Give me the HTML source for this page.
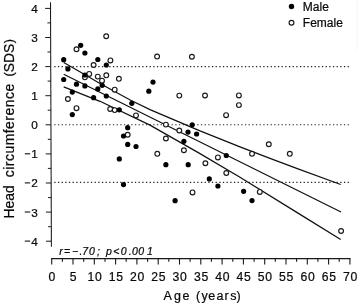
<!DOCTYPE html>
<html><head><meta charset="utf-8"><style>
html,body{margin:0;padding:0;background:#fff;}
body{width:358px;height:306px;position:relative;overflow:hidden;font-family:"Liberation Sans",sans-serif;}
</style></head><body>
<svg width="358" height="306" viewBox="0 0 358 306" style="position:absolute;left:0;top:0;will-change:transform;filter:blur(0.3px)">
<line x1="54.25" y1="66.6" x2="349.2" y2="66.6" stroke="#262626" stroke-width="1.2" stroke-dasharray="1.3 2.3667"/>
<line x1="54.25" y1="124.75" x2="349.2" y2="124.75" stroke="#262626" stroke-width="1.2" stroke-dasharray="1.3 2.3667"/>
<line x1="54.25" y1="182.45" x2="349.2" y2="182.45" stroke="#262626" stroke-width="1.2" stroke-dasharray="1.3 2.3667"/>
<line x1="357" y1="0" x2="357" y2="50" stroke="#f4f4f4" stroke-width="1"/>
<line x1="50.5" y1="2.3" x2="51.4" y2="246.7" stroke="#1a1a1a" stroke-width="1.05"/>
<line x1="45.1" y1="8.4" x2="50.5" y2="8.4" stroke="#1a1a1a" stroke-width="1"/>
<line x1="47.4" y1="22.9" x2="50.6" y2="22.9" stroke="#1a1a1a" stroke-width="1"/>
<line x1="45.2" y1="37.5" x2="50.6" y2="37.5" stroke="#1a1a1a" stroke-width="1"/>
<line x1="47.5" y1="52.0" x2="50.7" y2="52.0" stroke="#1a1a1a" stroke-width="1"/>
<line x1="45.3" y1="66.6" x2="50.7" y2="66.6" stroke="#1a1a1a" stroke-width="1"/>
<line x1="47.6" y1="81.1" x2="50.8" y2="81.1" stroke="#1a1a1a" stroke-width="1"/>
<line x1="45.4" y1="95.7" x2="50.8" y2="95.7" stroke="#1a1a1a" stroke-width="1"/>
<line x1="47.7" y1="110.2" x2="50.9" y2="110.2" stroke="#1a1a1a" stroke-width="1"/>
<line x1="45.6" y1="124.8" x2="51.0" y2="124.8" stroke="#1a1a1a" stroke-width="1"/>
<line x1="47.8" y1="139.3" x2="51.0" y2="139.3" stroke="#1a1a1a" stroke-width="1"/>
<line x1="45.7" y1="153.9" x2="51.1" y2="153.9" stroke="#1a1a1a" stroke-width="1"/>
<line x1="47.9" y1="168.4" x2="51.1" y2="168.4" stroke="#1a1a1a" stroke-width="1"/>
<line x1="45.8" y1="183.0" x2="51.2" y2="183.0" stroke="#1a1a1a" stroke-width="1"/>
<line x1="48.0" y1="197.6" x2="51.2" y2="197.6" stroke="#1a1a1a" stroke-width="1"/>
<line x1="45.9" y1="212.1" x2="51.3" y2="212.1" stroke="#1a1a1a" stroke-width="1"/>
<line x1="48.1" y1="226.7" x2="51.3" y2="226.7" stroke="#1a1a1a" stroke-width="1"/>
<line x1="46.0" y1="241.2" x2="51.4" y2="241.2" stroke="#1a1a1a" stroke-width="1"/>
<line x1="51.1" y1="258.6" x2="350.5" y2="258.6" stroke="#1a1a1a" stroke-width="1.05"/>
<line x1="51.7" y1="258.6" x2="51.7" y2="264.6" stroke="#1a1a1a" stroke-width="1.1"/>
<line x1="62.4" y1="258.6" x2="62.4" y2="261.8" stroke="#1a1a1a" stroke-width="1.1"/>
<line x1="73.0" y1="258.6" x2="73.0" y2="264.6" stroke="#1a1a1a" stroke-width="1.1"/>
<line x1="83.7" y1="258.6" x2="83.7" y2="261.8" stroke="#1a1a1a" stroke-width="1.1"/>
<line x1="94.3" y1="258.6" x2="94.3" y2="264.6" stroke="#1a1a1a" stroke-width="1.1"/>
<line x1="105.0" y1="258.6" x2="105.0" y2="261.8" stroke="#1a1a1a" stroke-width="1.1"/>
<line x1="115.6" y1="258.6" x2="115.6" y2="264.6" stroke="#1a1a1a" stroke-width="1.1"/>
<line x1="126.2" y1="258.6" x2="126.2" y2="261.8" stroke="#1a1a1a" stroke-width="1.1"/>
<line x1="136.9" y1="258.6" x2="136.9" y2="264.6" stroke="#1a1a1a" stroke-width="1.1"/>
<line x1="147.6" y1="258.6" x2="147.6" y2="261.8" stroke="#1a1a1a" stroke-width="1.1"/>
<line x1="158.2" y1="258.6" x2="158.2" y2="264.6" stroke="#1a1a1a" stroke-width="1.1"/>
<line x1="168.8" y1="258.6" x2="168.8" y2="261.8" stroke="#1a1a1a" stroke-width="1.1"/>
<line x1="179.5" y1="258.6" x2="179.5" y2="264.6" stroke="#1a1a1a" stroke-width="1.1"/>
<line x1="190.1" y1="258.6" x2="190.1" y2="261.8" stroke="#1a1a1a" stroke-width="1.1"/>
<line x1="200.8" y1="258.6" x2="200.8" y2="264.6" stroke="#1a1a1a" stroke-width="1.1"/>
<line x1="211.4" y1="258.6" x2="211.4" y2="261.8" stroke="#1a1a1a" stroke-width="1.1"/>
<line x1="222.1" y1="258.6" x2="222.1" y2="264.6" stroke="#1a1a1a" stroke-width="1.1"/>
<line x1="232.8" y1="258.6" x2="232.8" y2="261.8" stroke="#1a1a1a" stroke-width="1.1"/>
<line x1="243.4" y1="258.6" x2="243.4" y2="264.6" stroke="#1a1a1a" stroke-width="1.1"/>
<line x1="254.1" y1="258.6" x2="254.1" y2="261.8" stroke="#1a1a1a" stroke-width="1.1"/>
<line x1="264.7" y1="258.6" x2="264.7" y2="264.6" stroke="#1a1a1a" stroke-width="1.1"/>
<line x1="275.3" y1="258.6" x2="275.3" y2="261.8" stroke="#1a1a1a" stroke-width="1.1"/>
<line x1="286.0" y1="258.6" x2="286.0" y2="264.6" stroke="#1a1a1a" stroke-width="1.1"/>
<line x1="296.6" y1="258.6" x2="296.6" y2="261.8" stroke="#1a1a1a" stroke-width="1.1"/>
<line x1="307.3" y1="258.6" x2="307.3" y2="264.6" stroke="#1a1a1a" stroke-width="1.1"/>
<line x1="317.9" y1="258.6" x2="317.9" y2="261.8" stroke="#1a1a1a" stroke-width="1.1"/>
<line x1="328.6" y1="258.6" x2="328.6" y2="264.6" stroke="#1a1a1a" stroke-width="1.1"/>
<line x1="339.2" y1="258.6" x2="339.2" y2="261.8" stroke="#1a1a1a" stroke-width="1.1"/>
<line x1="349.9" y1="258.6" x2="349.9" y2="264.6" stroke="#1a1a1a" stroke-width="1.1"/>
<polyline fill="none" stroke="#111" stroke-width="1.25" points="63.7,62.5 76.8,70 100,83.5 130.2,100 150,109.6 200,130.9 240,146.9 270,158.4 298,168.8 340.7,184.5"/>
<polyline fill="none" stroke="#111" stroke-width="1.25" points="63.7,74.2 341,212"/>
<polyline fill="none" stroke="#111" stroke-width="1.25" points="63.7,86.8 100,101.3 150,125.1 200,153.6 240,177.2 298,213.1 340.7,239.5"/>
<circle cx="76.5" cy="49.3" r="2.4" fill="#fff" stroke="#1a1a1a" stroke-width="1.15"/>
<circle cx="106.2" cy="36.3" r="2.4" fill="#fff" stroke="#1a1a1a" stroke-width="1.15"/>
<circle cx="93.6" cy="65.0" r="2.4" fill="#fff" stroke="#1a1a1a" stroke-width="1.15"/>
<circle cx="110.4" cy="60.4" r="2.4" fill="#fff" stroke="#1a1a1a" stroke-width="1.15"/>
<circle cx="84.9" cy="77.3" r="2.4" fill="#fff" stroke="#1a1a1a" stroke-width="1.15"/>
<circle cx="89.2" cy="73.9" r="2.4" fill="#fff" stroke="#1a1a1a" stroke-width="1.15"/>
<circle cx="97.8" cy="76.6" r="2.4" fill="#fff" stroke="#1a1a1a" stroke-width="1.15"/>
<circle cx="106.3" cy="75.3" r="2.4" fill="#fff" stroke="#1a1a1a" stroke-width="1.15"/>
<circle cx="102" cy="80.7" r="2.4" fill="#fff" stroke="#1a1a1a" stroke-width="1.15"/>
<circle cx="67.9" cy="99.0" r="2.4" fill="#fff" stroke="#1a1a1a" stroke-width="1.15"/>
<circle cx="76.5" cy="108.2" r="2.4" fill="#fff" stroke="#1a1a1a" stroke-width="1.15"/>
<circle cx="110.2" cy="109.0" r="2.4" fill="#fff" stroke="#1a1a1a" stroke-width="1.15"/>
<circle cx="114.7" cy="110.1" r="2.4" fill="#fff" stroke="#1a1a1a" stroke-width="1.15"/>
<circle cx="118.9" cy="78.8" r="2.4" fill="#fff" stroke="#1a1a1a" stroke-width="1.15"/>
<circle cx="114.7" cy="89.7" r="2.4" fill="#fff" stroke="#1a1a1a" stroke-width="1.15"/>
<circle cx="157.1" cy="56.6" r="2.4" fill="#fff" stroke="#1a1a1a" stroke-width="1.15"/>
<circle cx="191.9" cy="56.8" r="2.4" fill="#fff" stroke="#1a1a1a" stroke-width="1.15"/>
<circle cx="136" cy="115.4" r="2.4" fill="#fff" stroke="#1a1a1a" stroke-width="1.15"/>
<circle cx="127.7" cy="134.7" r="2.4" fill="#fff" stroke="#1a1a1a" stroke-width="1.15"/>
<circle cx="157.3" cy="153.8" r="2.4" fill="#fff" stroke="#1a1a1a" stroke-width="1.15"/>
<circle cx="179.3" cy="95.6" r="2.4" fill="#fff" stroke="#1a1a1a" stroke-width="1.15"/>
<circle cx="205" cy="95.5" r="2.4" fill="#fff" stroke="#1a1a1a" stroke-width="1.15"/>
<circle cx="165.9" cy="124.6" r="2.4" fill="#fff" stroke="#1a1a1a" stroke-width="1.15"/>
<circle cx="179.3" cy="130.5" r="2.4" fill="#fff" stroke="#1a1a1a" stroke-width="1.15"/>
<circle cx="165.9" cy="138.5" r="2.4" fill="#fff" stroke="#1a1a1a" stroke-width="1.15"/>
<circle cx="183.9" cy="150.2" r="2.4" fill="#fff" stroke="#1a1a1a" stroke-width="1.15"/>
<circle cx="205.4" cy="163.2" r="2.4" fill="#fff" stroke="#1a1a1a" stroke-width="1.15"/>
<circle cx="192.5" cy="192.4" r="2.4" fill="#fff" stroke="#1a1a1a" stroke-width="1.15"/>
<circle cx="238.9" cy="95.4" r="2.4" fill="#fff" stroke="#1a1a1a" stroke-width="1.15"/>
<circle cx="238.9" cy="105.1" r="2.4" fill="#fff" stroke="#1a1a1a" stroke-width="1.15"/>
<circle cx="226.1" cy="115.2" r="2.4" fill="#fff" stroke="#1a1a1a" stroke-width="1.15"/>
<circle cx="217.9" cy="157.4" r="2.4" fill="#fff" stroke="#1a1a1a" stroke-width="1.15"/>
<circle cx="252" cy="153.8" r="2.4" fill="#fff" stroke="#1a1a1a" stroke-width="1.15"/>
<circle cx="226.3" cy="173" r="2.4" fill="#fff" stroke="#1a1a1a" stroke-width="1.15"/>
<circle cx="259.8" cy="191.9" r="2.4" fill="#fff" stroke="#1a1a1a" stroke-width="1.15"/>
<circle cx="268.8" cy="144.2" r="2.4" fill="#fff" stroke="#1a1a1a" stroke-width="1.15"/>
<circle cx="289.8" cy="153.8" r="2.4" fill="#fff" stroke="#1a1a1a" stroke-width="1.15"/>
<circle cx="341.1" cy="231" r="2.4" fill="#fff" stroke="#1a1a1a" stroke-width="1.15"/>
<circle cx="63.7" cy="59.7" r="2.6" fill="#000"/>
<circle cx="67.9" cy="68.9" r="2.6" fill="#000"/>
<circle cx="80.7" cy="45.3" r="2.6" fill="#000"/>
<circle cx="84.9" cy="53.0" r="2.6" fill="#000"/>
<circle cx="97.8" cy="59.5" r="2.6" fill="#000"/>
<circle cx="106.3" cy="65.0" r="2.6" fill="#000"/>
<circle cx="84.9" cy="75.0" r="2.6" fill="#000"/>
<circle cx="63.7" cy="79.5" r="2.6" fill="#000"/>
<circle cx="76.5" cy="84.2" r="2.6" fill="#000"/>
<circle cx="84.9" cy="85.9" r="2.6" fill="#000"/>
<circle cx="72.3" cy="92.1" r="2.6" fill="#000"/>
<circle cx="72.3" cy="114.6" r="2.6" fill="#000"/>
<circle cx="93.6" cy="97.7" r="2.6" fill="#000"/>
<circle cx="97.8" cy="88.9" r="2.6" fill="#000"/>
<circle cx="102.2" cy="85.3" r="2.6" fill="#000"/>
<circle cx="106.3" cy="96.0" r="2.6" fill="#000"/>
<circle cx="153" cy="82.1" r="2.6" fill="#000"/>
<circle cx="148.8" cy="91.2" r="2.6" fill="#000"/>
<circle cx="131.8" cy="103.3" r="2.6" fill="#000"/>
<circle cx="119.3" cy="109.8" r="2.6" fill="#000"/>
<circle cx="127.7" cy="127.7" r="2.6" fill="#000"/>
<circle cx="123.5" cy="136" r="2.6" fill="#000"/>
<circle cx="127.7" cy="144.4" r="2.6" fill="#000"/>
<circle cx="136" cy="146.5" r="2.6" fill="#000"/>
<circle cx="119.3" cy="158.9" r="2.6" fill="#000"/>
<circle cx="123.5" cy="184.6" r="2.6" fill="#000"/>
<circle cx="192.2" cy="124.8" r="2.6" fill="#000"/>
<circle cx="188.0" cy="132.1" r="2.6" fill="#000"/>
<circle cx="196.6" cy="134" r="2.6" fill="#000"/>
<circle cx="183.9" cy="141.3" r="2.6" fill="#000"/>
<circle cx="165.9" cy="164.7" r="2.6" fill="#000"/>
<circle cx="188.2" cy="164.7" r="2.6" fill="#000"/>
<circle cx="209.3" cy="178.9" r="2.6" fill="#000"/>
<circle cx="175.1" cy="200.7" r="2.6" fill="#000"/>
<circle cx="226.3" cy="155.5" r="2.6" fill="#000"/>
<circle cx="217.9" cy="186" r="2.6" fill="#000"/>
<circle cx="243.6" cy="191.3" r="2.6" fill="#000"/>
<circle cx="252" cy="200.6" r="2.6" fill="#000"/>
<circle cx="291.5" cy="6.5" r="2.7" fill="#000"/>
<circle cx="291.5" cy="22.7" r="2.4" fill="#fff" stroke="#1a1a1a" stroke-width="1.15"/>
<text x="302.8" y="10.7" font-size="12" font-family="Liberation Sans, sans-serif" fill="#0a0a0a" stroke="#0a0a0a" stroke-width="0.22">Male</text>
<text x="302.8" y="27.1" font-size="12" font-family="Liberation Sans, sans-serif" fill="#0a0a0a" stroke="#0a0a0a" stroke-width="0.22">Female</text>
<text x="37.9" y="12.8" font-size="11.8" text-anchor="end" font-family="Liberation Sans, sans-serif" fill="#0a0a0a" stroke="#0a0a0a" stroke-width="0.22">4</text>
<text x="37.9" y="41.9" font-size="11.8" text-anchor="end" font-family="Liberation Sans, sans-serif" fill="#0a0a0a" stroke="#0a0a0a" stroke-width="0.22">3</text>
<text x="37.9" y="71.0" font-size="11.8" text-anchor="end" font-family="Liberation Sans, sans-serif" fill="#0a0a0a" stroke="#0a0a0a" stroke-width="0.22">2</text>
<text x="37.9" y="100.1" font-size="11.8" text-anchor="end" font-family="Liberation Sans, sans-serif" fill="#0a0a0a" stroke="#0a0a0a" stroke-width="0.22">1</text>
<text x="37.9" y="129.2" font-size="11.8" text-anchor="end" font-family="Liberation Sans, sans-serif" fill="#0a0a0a" stroke="#0a0a0a" stroke-width="0.22">0</text>
<text x="37.9" y="158.3" font-size="11.8" text-anchor="end" font-family="Liberation Sans, sans-serif" fill="#0a0a0a" stroke="#0a0a0a" stroke-width="0.22">1</text>
<line x1="24.8" y1="153.8" x2="30.2" y2="153.8" stroke="#111" stroke-width="1.1"/>
<text x="37.9" y="187.4" font-size="11.8" text-anchor="end" font-family="Liberation Sans, sans-serif" fill="#0a0a0a" stroke="#0a0a0a" stroke-width="0.22">2</text>
<line x1="24.8" y1="182.9" x2="30.2" y2="182.9" stroke="#111" stroke-width="1.1"/>
<text x="37.9" y="216.5" font-size="11.8" text-anchor="end" font-family="Liberation Sans, sans-serif" fill="#0a0a0a" stroke="#0a0a0a" stroke-width="0.22">3</text>
<line x1="24.8" y1="212.0" x2="30.2" y2="212.0" stroke="#111" stroke-width="1.1"/>
<text x="37.9" y="245.6" font-size="11.8" text-anchor="end" font-family="Liberation Sans, sans-serif" fill="#0a0a0a" stroke="#0a0a0a" stroke-width="0.22">4</text>
<line x1="24.8" y1="241.1" x2="30.2" y2="241.1" stroke="#111" stroke-width="1.1"/>
<text x="52.3" y="281.3" font-size="12.2" text-anchor="middle" letter-spacing="0.7" font-family="Liberation Sans, sans-serif" fill="#0a0a0a" stroke="#0a0a0a" stroke-width="0.22">0</text>
<text x="73.6" y="281.3" font-size="12.2" text-anchor="middle" letter-spacing="0.7" font-family="Liberation Sans, sans-serif" fill="#0a0a0a" stroke="#0a0a0a" stroke-width="0.22">5</text>
<text x="94.9" y="281.3" font-size="12.2" text-anchor="middle" letter-spacing="0.7" font-family="Liberation Sans, sans-serif" fill="#0a0a0a" stroke="#0a0a0a" stroke-width="0.22">10</text>
<text x="116.2" y="281.3" font-size="12.2" text-anchor="middle" letter-spacing="0.7" font-family="Liberation Sans, sans-serif" fill="#0a0a0a" stroke="#0a0a0a" stroke-width="0.22">15</text>
<text x="137.5" y="281.3" font-size="12.2" text-anchor="middle" letter-spacing="0.7" font-family="Liberation Sans, sans-serif" fill="#0a0a0a" stroke="#0a0a0a" stroke-width="0.22">20</text>
<text x="158.8" y="281.3" font-size="12.2" text-anchor="middle" letter-spacing="0.7" font-family="Liberation Sans, sans-serif" fill="#0a0a0a" stroke="#0a0a0a" stroke-width="0.22">25</text>
<text x="180.1" y="281.3" font-size="12.2" text-anchor="middle" letter-spacing="0.7" font-family="Liberation Sans, sans-serif" fill="#0a0a0a" stroke="#0a0a0a" stroke-width="0.22">30</text>
<text x="201.4" y="281.3" font-size="12.2" text-anchor="middle" letter-spacing="0.7" font-family="Liberation Sans, sans-serif" fill="#0a0a0a" stroke="#0a0a0a" stroke-width="0.22">35</text>
<text x="222.7" y="281.3" font-size="12.2" text-anchor="middle" letter-spacing="0.7" font-family="Liberation Sans, sans-serif" fill="#0a0a0a" stroke="#0a0a0a" stroke-width="0.22">40</text>
<text x="244.0" y="281.3" font-size="12.2" text-anchor="middle" letter-spacing="0.7" font-family="Liberation Sans, sans-serif" fill="#0a0a0a" stroke="#0a0a0a" stroke-width="0.22">45</text>
<text x="265.3" y="281.3" font-size="12.2" text-anchor="middle" letter-spacing="0.7" font-family="Liberation Sans, sans-serif" fill="#0a0a0a" stroke="#0a0a0a" stroke-width="0.22">50</text>
<text x="286.6" y="281.3" font-size="12.2" text-anchor="middle" letter-spacing="0.7" font-family="Liberation Sans, sans-serif" fill="#0a0a0a" stroke="#0a0a0a" stroke-width="0.22">55</text>
<text x="307.9" y="281.3" font-size="12.2" text-anchor="middle" letter-spacing="0.7" font-family="Liberation Sans, sans-serif" fill="#0a0a0a" stroke="#0a0a0a" stroke-width="0.22">60</text>
<text x="329.2" y="281.3" font-size="12.2" text-anchor="middle" letter-spacing="0.7" font-family="Liberation Sans, sans-serif" fill="#0a0a0a" stroke="#0a0a0a" stroke-width="0.22">65</text>
<text x="350.5" y="281.3" font-size="12.2" text-anchor="middle" letter-spacing="0.7" font-family="Liberation Sans, sans-serif" fill="#0a0a0a" stroke="#0a0a0a" stroke-width="0.22">70</text>
<text x="163.4 173.9 182.5 189.1 196.1 201.5 208.3 216.4 224.5 230.3 236.5" y="300.4" font-size="12.5" font-family="Liberation Sans, sans-serif" fill="#0a0a0a" stroke="#0a0a0a" stroke-width="0.22">Age (years)</text>
<text transform="translate(14.3,218.5) rotate(-90)" font-size="13.9" font-family="Liberation Sans, sans-serif" fill="#0a0a0a" stroke="#0a0a0a" stroke-width="0.22">Head</text>
<text transform="translate(14.3,177.3) rotate(-90)" font-size="13.9" letter-spacing="0.52" font-family="Liberation Sans, sans-serif" fill="#0a0a0a" stroke="#0a0a0a" stroke-width="0.22">circumference</text>
<text transform="translate(14.3,76.4) rotate(-90)" font-size="13.9" font-family="Liberation Sans, sans-serif" fill="#0a0a0a" stroke="#0a0a0a" stroke-width="0.22"><tspan font-size="12.6" dy="-1.2">(</tspan><tspan dy="1.2">SDS</tspan><tspan font-size="12.6" dy="-1.2" dx="0.3">)</tspan></text>
<text x="59.3 64.0 72.0 79.4 82.3 89.1 97.0 101.0 105.9 113.3 120.7 128.8 131.9 138.3 146.9" y="254.8" font-size="10.5" font-style="italic" font-family="Liberation Sans, sans-serif" fill="#0a0a0a" stroke="#0a0a0a" stroke-width="0.22">r=−.70; p&lt;0.001</text>
</svg>
</body></html>
